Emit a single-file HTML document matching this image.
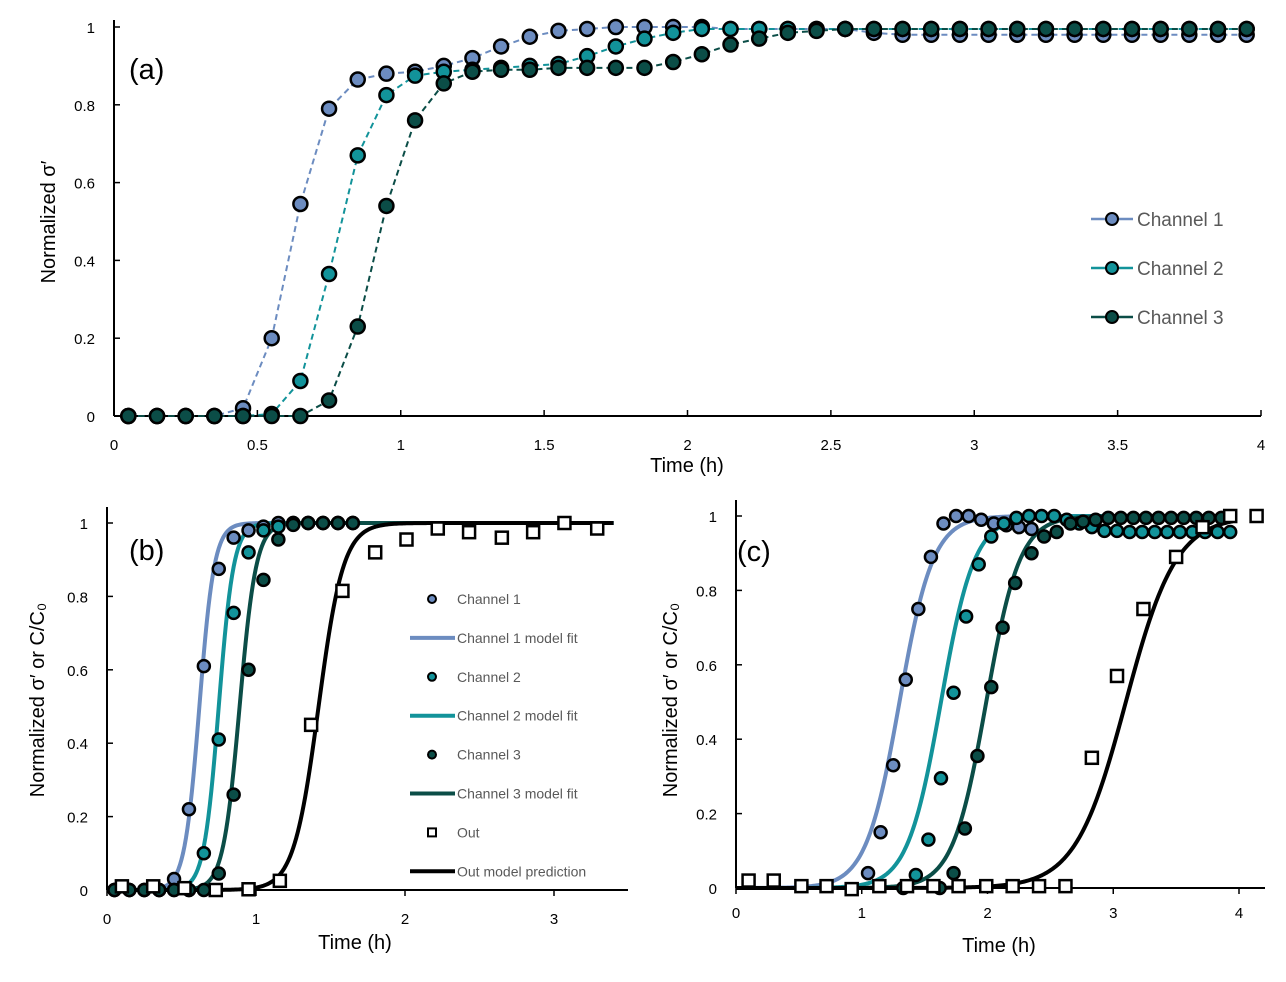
<!DOCTYPE html>
<html><head><meta charset="utf-8"><style>
body{margin:0;background:#fff;}
svg{display:block;font-family:"Liberation Sans",sans-serif;}
</style></head><body>
<svg id="fig" width="1286" height="982" viewBox="0 0 1286 982" xmlns="http://www.w3.org/2000/svg"></svg>
<script>
// ---- Panel (a) data ----
const timeA = Array.from({length:40},(_,i)=>+(0.05+0.1*i).toFixed(2));
const ch1A=[0,0,0,0,0.02,0.2,0.545,0.79,0.865,0.88,0.885,0.9,0.92,0.95,0.975,0.99,0.995,1,1,1,1,0.995,0.995,0.995,0.995,0.995,0.985,0.98,0.98,0.98,0.98,0.98,0.98,0.98,0.98,0.98,0.98,0.98,0.98,0.98];
const ch2A=[0,0,0,0,0,0.005,0.09,0.365,0.67,0.825,0.875,0.885,0.89,0.895,0.9,0.905,0.925,0.95,0.97,0.985,0.995,0.995,0.995,0.995,0.995,0.995,0.995,0.995,0.995,0.995,0.995,0.995,0.995,0.995,0.995,0.995,0.995,0.995,0.995,0.995];
const ch3A=[0,0,0,0,0,0,0,0.04,0.23,0.54,0.76,0.855,0.885,0.89,0.89,0.895,0.895,0.895,0.895,0.91,0.93,0.955,0.97,0.985,0.99,0.995,0.995,0.995,0.995,0.995,0.995,0.995,0.995,0.995,0.995,0.995,0.995,0.995,0.995,0.995];
const xTicksA=[0,0.5,1,1.5,2,2.5,3,3.5,4];
const yTicks=[0,0.2,0.4,0.6,0.8,1];
// ---- Panel (b) data ----
const timeB = Array.from({length:17},(_,i)=>+(0.05+0.1*i).toFixed(2));
const ch1B=[0,0,0,0,0.03,0.22,0.61,0.875,0.96,0.98,0.99,1,1,1,1,1,1];
const ch2B=[0,0,0,0,0,0,0.1,0.41,0.755,0.92,0.98,0.99,1,1,1,1,1];
const ch3B=[0,0,0,0,0,0,0,0.045,0.26,0.6,0.845,0.955,0.995,1,1,1,1];
const outTimeB=[0.1,0.31,0.52,0.73,0.95,1.16,1.37,1.58,1.8,2.01,2.22,2.43,2.65,2.86,3.07,3.29];
const outB=[0.01,0.01,0.005,0,0.002,0.025,0.45,0.815,0.92,0.955,0.985,0.975,0.96,0.975,1.0,0.985];
const fitMidB=[0.62,0.75,0.89,1.42];
const fitRateB=[20,20,18,12];
const xTicksB=[0,1,2,3];
// ---- Panel (c) data ----
const ch1TimeC=[1.05,1.15,1.25,1.35,1.45,1.55,1.65,1.75,1.85,1.95,2.05,2.15,2.25,2.35];
const ch1C=[0.04,0.15,0.33,0.56,0.75,0.89,0.98,1.0,1.0,0.99,0.98,0.975,0.97,0.965];
const ch2TimeC=Array.from({length:26},(_,i)=>+(1.43+0.1*i).toFixed(2));
const ch2C=[0.035,0.13,0.295,0.525,0.73,0.87,0.945,0.98,0.995,1,1,1,0.99,0.98,0.97,0.96,0.96,0.957,0.957,0.957,0.957,0.957,0.957,0.957,0.957,0.957];
const ch3TimeC=[1.33,1.62,1.73,1.82,1.92,2.03,2.12,2.22,2.35,2.45,2.55,2.66,2.76,2.86,2.96,3.06,3.16,3.26,3.36,3.46,3.56,3.66,3.76,3.86];
const ch3C=[0,0,0.04,0.16,0.355,0.54,0.70,0.82,0.90,0.945,0.957,0.98,0.985,0.99,0.995,0.995,0.995,0.995,0.995,0.995,0.995,0.995,0.995,0.995];
const outTimeC=[0.1,0.3,0.52,0.72,0.92,1.14,1.36,1.57,1.77,1.99,2.2,2.41,2.62,2.83,3.03,3.24,3.5,3.71,3.93,4.14];
const outC=[0.02,0.02,0.005,0.005,-0.003,0.005,0.005,0.005,0.005,0.005,0.005,0.005,0.005,0.35,0.57,0.75,0.89,0.97,1.0,1.0];
const fitMidC=[1.30,1.63,1.99,3.10];
const fitRateC=[7.5,7.5,7.5,5.0];
const xTicksC=[0,1,2,3,4];

const C1='#6c8cc0', C2='#12939a', C3='#0b4d47';
const svg=document.getElementById('fig');
const NS='http://www.w3.org/2000/svg';
function mk(tag,attrs,parent){const e=document.createElementNS(NS,tag);for(const k in attrs)e.setAttribute(k,attrs[k]);(parent||svg).appendChild(e);return e;}
function txt(s,attrs,parent){const e=mk('text',attrs,parent);e.textContent=s;return e;}

function axes(g,x,y,x0,x1,y0,y1,xt,xLabY,yLabX,tickDir){
  const ax=mk('line',{x1:x0,y1:y(0),x2:x1,y2:y(0),stroke:'#000','stroke-width':2},g);
  
  
  const ay=mk('line',{x1:x(0),y1:y(0),x2:x(0),y2:y1,stroke:'#000','stroke-width':2},g);
  
  
  xt.forEach(v=>{
    mk('line',{x1:x(v),y1:y(0),x2:x(v),y2:y(0)-tickDir,stroke:'#000','stroke-width':1.5},g);
    const t=txt(String(v),{x:x(v),y:xLabY,'text-anchor':'middle','font-size':15,fill:'#000'},g);
    
    
  });
  yTicks.forEach(v=>{
    mk('line',{x1:x(0),y1:y(v),x2:x(0)+6,y2:y(v),stroke:'#000','stroke-width':1.5},g);
    const t=txt(String(v),{x:yLabX,y:y(v)+6,'text-anchor':'end','font-size':15,fill:'#000'},g);
    
    
  });
}
function dots(g,x,y,ts,vs,col,r,name){
  ts.forEach((t,i)=>{const c=mk('circle',{cx:x(t),cy:y(vs[i]),r:r,fill:col,stroke:'#000','stroke-width':2.5},g);
  
  });
}
function squares(g,x,y,ts,vs,name){
  ts.forEach((t,i)=>{const s=mk('rect',{x:x(t)-6,y:y(vs[i])-6,width:12,height:12,fill:'#fff',stroke:'#000','stroke-width':2.5},g);
  
  });
}
function dashed(g,x,y,ts,vs,col,name){
  const p=mk('polyline',{points:ts.map((t,i)=>x(t)+','+y(vs[i])).join(' '),fill:'none',stroke:col,'stroke-width':2,'stroke-dasharray':'6,4'},g);
  
  
}
function fit(g,x,y,t0,t1,mid,rate,col,name){
  const pts=[];for(let t=t0;t<=t1+1e-9;t+=0.01){pts.push(x(t)+','+y(1/(1+Math.exp(-rate*(t-mid)))));}
  const p=mk('polyline',{points:pts.join(' '),fill:'none',stroke:col,'stroke-width':4},g);
  
  
}

// Panel a
const gA=mk('g',{});


const xA=v=>114+v*286.75, yA=v=>416-v*389;
axes(gA,xA,yA,114,1261,0,20,xTicksA,450,95,6);
dashed(gA,xA,yA,timeA,ch1A,C1,'channel-1-line');
dashed(gA,xA,yA,timeA,ch2A,C2,'channel-2-line');
dashed(gA,xA,yA,timeA,ch3A,C3,'channel-3-line');
dots(gA,xA,yA,timeA,ch1A,C1,7,'channel-1-point');
dots(gA,xA,yA,timeA,ch2A,C2,7,'channel-2-point');
dots(gA,xA,yA,timeA,ch3A,C3,7,'channel-3-point');
let t=txt('(a)',{x:129,y:79,'font-size':29,fill:'#000'},gA);
t=txt('Time (h)',{x:687,y:472,'text-anchor':'middle','font-size':20,fill:'#000'},gA);
t=txt('Normalized σ′',{x:0,y:0,'text-anchor':'middle','font-size':20,fill:'#000',transform:'translate(55,222) rotate(-90)'},gA);
[['Channel 1',C1,219],['Channel 2',C2,268],['Channel 3',C3,317]].forEach(([n,c,yy])=>{
  const lg=mk('g',{},gA);
  
  
  mk('line',{x1:1091,y1:yy,x2:1133,y2:yy,stroke:c,'stroke-width':2.5},lg);
  mk('circle',{cx:1112,cy:yy,r:6,fill:c,stroke:'#000','stroke-width':2},lg);
  txt(n,{x:1137,y:yy+7,'font-size':19,fill:'#595959'},lg);
});

// Panel b
const gB=mk('g',{});


const xB=v=>107+v*149, yB=v=>890-v*367;
axes(gB,xB,yB,107,628,0,507,xTicksB,924,88,-6);
const cols=[C1,C2,C3,'#000'];
fit(gB,xB,yB,0,3.4,fitMidB[0],fitRateB[0],cols[0],'channel-1-fit');
fit(gB,xB,yB,0,3.4,fitMidB[1],fitRateB[1],cols[1],'channel-2-fit');
fit(gB,xB,yB,0,3.4,fitMidB[2],fitRateB[2],cols[2],'channel-3-fit');
fit(gB,xB,yB,0,3.4,fitMidB[3],fitRateB[3],cols[3],'out-model-prediction');
dots(gB,xB,yB,timeB,ch1B,C1,6,'channel-1-point');
dots(gB,xB,yB,timeB,ch2B,C2,6,'channel-2-point');
dots(gB,xB,yB,timeB,ch3B,C3,6,'channel-3-point');
squares(gB,xB,yB,outTimeB,outB,'out-point');
t=txt('(b)',{x:129,y:560,'font-size':29,fill:'#000'},gB);
t=txt('Time (h)',{x:355,y:949,'text-anchor':'middle','font-size':20,fill:'#000'},gB);
t=txt('Normalized σ′ or C/C₀',{x:0,y:0,'text-anchor':'middle','font-size':20,fill:'#000',transform:'translate(44,700) rotate(-90)'},gB);
const legB=[['Channel 1','dot',C1],['Channel 1 model fit','line',C1],['Channel 2','dot',C2],['Channel 2 model fit','line',C2],['Channel 3','dot',C3],['Channel 3 model fit','line',C3],['Out','sq','#000'],['Out model prediction','line','#000']];
legB.forEach(([n,k,c],i)=>{
  const yy=599+i*38.9;
  const lg=mk('g',{},gB);
  
  
  if(k==='dot')mk('circle',{cx:432,cy:yy,r:4,fill:c,stroke:'#000','stroke-width':2},lg);
  else if(k==='sq')mk('rect',{x:428,y:yy-4,width:8,height:8,fill:'#fff',stroke:'#000','stroke-width':2},lg);
  else mk('line',{x1:410,y1:yy,x2:455,y2:yy,stroke:c,'stroke-width':4},lg);
  txt(n,{x:457,y:yy+5,'font-size':14,fill:'#595959'},lg);
});

// Panel c
const gC=mk('g',{});


const xC=v=>736+v*125.75, yC=v=>888-v*372;
axes(gC,xC,yC,736,1265,0,500,xTicksC,918,717,-6);
fit(gC,xC,yC,0,3.95,fitMidC[0],fitRateC[0],cols[0],'channel-1-fit');
fit(gC,xC,yC,0,3.95,fitMidC[1],fitRateC[1],cols[1],'channel-2-fit');
fit(gC,xC,yC,0,3.95,fitMidC[2],fitRateC[2],cols[2],'channel-3-fit');
fit(gC,xC,yC,0,3.95,fitMidC[3],fitRateC[3],cols[3],'out-model-prediction');
dots(gC,xC,yC,ch1TimeC,ch1C,C1,6,'channel-1-point');
dots(gC,xC,yC,ch2TimeC,ch2C,C2,6,'channel-2-point');
dots(gC,xC,yC,ch3TimeC,ch3C,C3,6,'channel-3-point');
squares(gC,xC,yC,outTimeC,outC,'out-point');
t=txt('(c)',{x:737,y:561,'font-size':29,fill:'#000'},gC);
t=txt('Time (h)',{x:999,y:952,'text-anchor':'middle','font-size':20,fill:'#000'},gC);
t=txt('Normalized σ′ or C/C₀',{x:0,y:0,'text-anchor':'middle','font-size':20,fill:'#000',transform:'translate(677,700) rotate(-90)'},gC);
</script>
</body></html>
